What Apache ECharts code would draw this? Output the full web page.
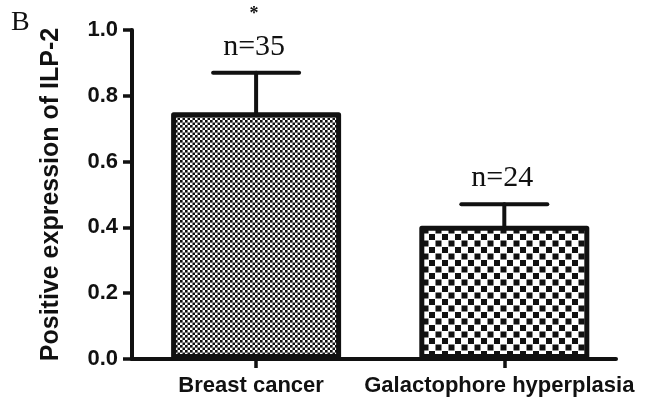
<!DOCTYPE html>
<html>
<head>
<meta charset="utf-8">
<script src="https://cdn.jsdelivr.net/npm/echarts@6/dist/echarts.min.js"></script>
<style>
  html, body { margin: 0; padding: 0; background: #fff; }
  #container { width: 646px; height: 410px; }
</style>
</head>
<body>
<div id="container"></div>
<script>
var dom = document.getElementById('container');
var myChart = echarts.init(dom, null, { renderer: 'canvas' });

// data
var groups = ['Breast cancer', 'Galactophore hyperplasia'];
var means = [0.75, 0.405];
var upper = [0.87, 0.47];   // mean + SD
var nLabels = ['n=35', 'n=24'];
var sigMarks = ['*', ''];

// checkerboard fills, built on a small canvas
function checker(size, cell) {
    var c = document.createElement('canvas');
    c.width = size;
    c.height = size;
    var ctx = c.getContext('2d');
    ctx.fillStyle = '#fff';
    ctx.fillRect(0, 0, size, size);
    ctx.fillStyle = '#111';
    ctx.fillRect(0, 0, cell, cell);
    ctx.fillRect(size / 2, size / 2, cell, cell);
    return c;
}
var fills = [checker(5, 2.6), checker(13, 6)];

var barData = means.map(function (v, i) {
    return {
        value: [i, v],
        itemStyle: { color: { image: fills[i], repeat: 'repeat' } }
    };
});
var errData = means.map(function (v, i) {
    return [i, v, upper[i]];
});

var option = {
    backgroundColor: '#fff',
    animation: false,
    title: {
        text: 'B',
        left: 6,
        top: 4,
        textStyle: { fontFamily: 'Liberation Serif', fontWeight: 'normal', fontSize: 28, color: '#111' }
    },
    grid: { left: 132, right: 30, top: 30, bottom: 51 },
    xAxis: {
        type: 'value',
        min: -0.5,
        max: 1.45,
        splitLine: { show: false },
        axisLine: { onZero: false, lineStyle: { color: '#111', width: 4 } },
        axisTick: {
            customValues: [0, 1],
            length: 9,
            lineStyle: { color: '#111', width: 3.5 }
        },
        axisLabel: {
            customValues: [0, 1],
            margin: 16,
            padding: [0, 10, 0, 0],
            formatter: function (v) { return groups[Math.round(v)]; },
            fontFamily: 'Liberation Sans',
            fontWeight: 'bold',
            fontSize: 22,
            color: '#111'
        }
    },
    yAxis: {
        type: 'value',
        min: 0,
        max: 1,
        interval: 0.2,
        name: 'Positive expression of ILP-2',
        nameLocation: 'middle',
        nameGap: 68,
        nameTextStyle: { fontFamily: 'Liberation Sans', fontWeight: 'bold', fontSize: 25, color: '#111' },
        splitLine: { show: false },
        axisLine: { show: true, onZero: false, lineStyle: { color: '#111', width: 4 } },
        axisTick: { show: true, length: 9, lineStyle: { color: '#111', width: 3.5 } },
        axisLabel: {
            margin: 14,
            formatter: function (v) { return v.toFixed(1); },
            fontFamily: 'Liberation Sans',
            fontWeight: 'bold',
            fontSize: 22,
            color: '#111'
        }
    },
    series: [
        {
            type: 'bar',
            barWidth: 170,
            data: barData,
            itemStyle: { borderColor: '#111', borderWidth: 5, borderJoin: 'round' }
        },
        {
            type: 'custom',
            data: errData,
            renderItem: function (params, api) {
                var i = api.value(0);
                var base = api.coord([i, api.value(1)]);
                var top = api.coord([i, api.value(2)]);
                var half = 43;
                var line = { stroke: '#111', lineWidth: 4, lineCap: 'round' };
                return {
                    type: 'group',
                    children: [
                        { type: 'line', shape: { x1: top[0], y1: base[1], x2: top[0], y2: top[1] }, style: line },
                        { type: 'line', shape: { x1: top[0] - half, y1: top[1], x2: top[0] + half, y2: top[1] }, style: line },
                        {
                            type: 'text',
                            style: {
                                text: nLabels[params.dataIndex],
                                x: top[0] - 2, y: top[1] - 26,
                                align: 'center', verticalAlign: 'middle',
                                font: '30px "Liberation Serif"', fill: '#111'
                            }
                        },
                        {
                            type: 'text',
                            style: {
                                text: sigMarks[params.dataIndex],
                                x: top[0] - 2, y: top[1] - 58,
                                align: 'center', verticalAlign: 'middle',
                                font: 'bold 18px "Liberation Serif"', fill: '#111'
                            }
                        }
                    ]
                };
            }
        }
    ]
};

myChart.setOption(option);
window.addEventListener('resize', myChart.resize);
</script>
</body>
</html>
